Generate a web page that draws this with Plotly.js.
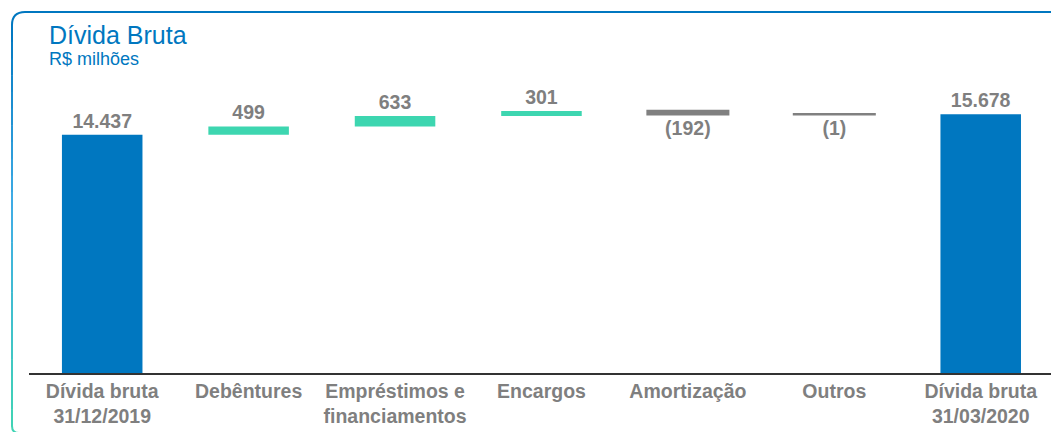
<!DOCTYPE html>
<html>
<head>
<meta charset="utf-8">
<script src="https://cdn.plot.ly/plotly-3.0.1.min.js"></script>
<style>
  html, body { margin: 0; padding: 0; background: #ffffff; }
  #chart { width: 1051px; height: 432px; }
</style>
</head>
<body>
<div id="chart"></div>
<script>
// ---- data ----
const categories = [
  "Dívida bruta<br>31/12/2019",
  "Debêntures",
  "Empréstimos e<br>financiamentos",
  "Encargos",
  "Amortização",
  "Outros",
  "Dívida bruta<br>31/03/2020"
];
const measures = ["absolute", "relative", "relative", "relative", "relative", "relative", "absolute"];
const values = [14437, 499, 633, 301, -192, -1, 15678];
const valueLabels = ["14.437", "499", "633", "301", "(192)", "(1)", "15.678"];

const titleText = "Dívida Bruta";
const subtitleText = "R$ milhões";

// ---- layout helpers ----
const W = 1051, H = 432;
const M = { l: 29, r: 0, t: 40, b: 59 };
const plotW = W - M.l - M.r, plotH = H - M.t - M.b;
const px = x => (x - M.l) / plotW;
const py = y => (H - M.b - y) / plotH;

const FONT = "Liberation Sans, Arial, Helvetica, sans-serif";
const BLUE = "#0077C0";
const TEAL = "#3DD6B0";
const GREY = "#808080";
const TXT = "#7F7F7F";

const trace = {
  type: "waterfall",
  x: categories,
  y: values,
  measure: measures,
  text: valueLabels,
  texttemplate: "%{text}",
  textposition: "outside",
  cliponaxis: false,
  textfont: { family: FONT, size: 19.5, color: TXT, weight: "bold" },
  connector: { visible: false },
  increasing: { marker: { color: TEAL } },
  decreasing: { marker: { color: GREY, line: { color: GREY, width: 2.5 } } },
  totals: { marker: { color: BLUE } },
  hoverinfo: "x+y"
};

// frame: top line + gradient left edge
const shapes = [];
const frameX = 12, frameTop = 12, r = 13;
shapes.push({
  type: "line", xref: "paper", yref: "paper",
  x0: px(frameX + r), x1: px(W + 5), y0: py(frameTop), y1: py(frameTop),
  line: { color: BLUE, width: 2 }
});
shapes.push({
  type: "path", xref: "paper", yref: "paper",
  path: `M ${px(frameX)} ${py(frameTop + r)} Q ${px(frameX)} ${py(frameTop)} ${px(frameX + r)} ${py(frameTop)}`,
  line: { color: BLUE, width: 2 }
});
function lerp(a, b, t) { return Math.round(a + (b - a) * t); }
function hex(c) { return "#" + c.map(v => v.toString(16).padStart(2, "0")).join(""); }
const stops = [[0, [0, 119, 192]], [0.45, [64, 172, 230]], [1, [64, 212, 180]]];
function colAt(t) {
  for (let i = 0; i < stops.length - 1; i++) {
    const [t0, c0] = stops[i], [t1, c1] = stops[i + 1];
    if (t <= t1) {
      const u = (t - t0) / (t1 - t0);
      return hex([lerp(c0[0], c1[0], u), lerp(c0[1], c1[1], u), lerp(c0[2], c1[2], u)]);
    }
  }
  return hex(stops[stops.length - 1][1]);
}
const yStart = frameTop + r, yEnd = 426, nSeg = 24;
for (let i = 0; i < nSeg; i++) {
  const a = yStart + (yEnd - yStart) * i / nSeg;
  const b = yStart + (yEnd - yStart) * (i + 1) / nSeg + 0.5;
  shapes.push({
    type: "line", xref: "paper", yref: "paper",
    x0: px(frameX), x1: px(frameX), y0: py(a), y1: py(b),
    line: { color: colAt((i + 0.5) / nSeg), width: 2 }
  });
}
shapes.push({
  type: "path", xref: "paper", yref: "paper",
  path: `M ${px(frameX)} ${py(yEnd)} Q ${px(frameX)} ${py(433)} ${px(frameX + 7)} ${py(433)}`,
  line: { color: hex(stops[2][1]), width: 2 }
});

const layout = {
  width: W, height: H,
  margin: M,
  paper_bgcolor: "#ffffff",
  plot_bgcolor: "#ffffff",
  showlegend: false,
  waterfallgap: 0.45,
  font: { family: FONT },
  xaxis: {
    type: "category",
    range: [-0.5, 6.48],
    showline: true, linecolor: "#333333", linewidth: 1.5,
    showgrid: false, zeroline: false, ticks: "",
    tickfont: { family: FONT, size: 19.5, color: TXT, weight: "bold" },
    fixedrange: true
  },
  yaxis: {
    range: [0, 20173],
    visible: false, showgrid: false, zeroline: false,
    fixedrange: true
  },
  shapes: shapes,
  annotations: [
    {
      xref: "paper", yref: "paper", x: px(47), y: py(34.5),
      xanchor: "left", yanchor: "middle", showarrow: false,
      text: titleText, font: { family: FONT, size: 25, color: BLUE }
    },
    {
      xref: "paper", yref: "paper", x: px(47), y: py(59.5),
      xanchor: "left", yanchor: "middle", showarrow: false,
      text: subtitleText, font: { family: FONT, size: 18, color: BLUE }
    }
  ]
};

Plotly.newPlot("chart", [trace], layout, { displayModeBar: false, staticPlot: true });
</script>
</body>
</html>
